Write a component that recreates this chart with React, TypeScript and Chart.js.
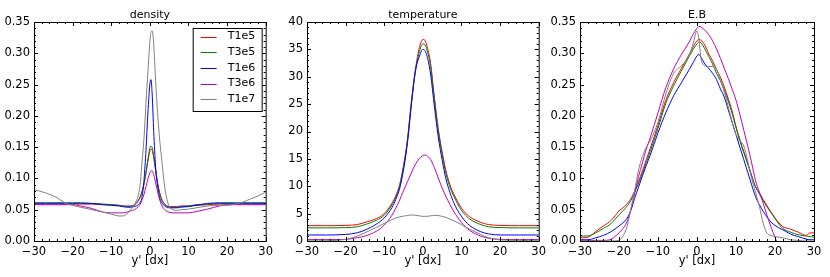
import React, { useEffect, useRef } from 'react';
import { Chart, registerables } from 'chart.js';

Chart.register(...registerables);

const FONT = 'DejaVu Sans';

// ---------- shared ----------
const seriesLabels = ['T1e5', 'T3e5', 'T1e6', 'T3e6', 'T1e7'];
const seriesColors = ['#ff0000', '#008000', '#0000ff', '#bf00bf', '#808080'];
const xAxisLabel = "y' [dx]";
const xTicks = [-30, -20, -10, 0, 10, 20, 30];

// ---------- density ----------
const densX = [-30, -27, -24, -22, -20, -18, -15, -12, -10, -8, -7, -6, -5, -4, -3.5, -3, -2.5, -2, -1.5, -1, -0.5, 0, 0.3, 0.6, 1, 1.5, 2, 2.5, 3, 3.5, 4, 4.5, 5, 6, 7, 8, 10, 12, 15, 18, 20, 22, 24, 26, 28, 30];
const densT1e5 = [0.059, 0.059, 0.059, 0.059, 0.059, 0.059, 0.059, 0.058, 0.058, 0.057, 0.056, 0.056, 0.056, 0.058, 0.061, 0.065, 0.071, 0.080, 0.092, 0.108, 0.128, 0.143, 0.147, 0.145, 0.133, 0.112, 0.092, 0.078, 0.068, 0.062, 0.058, 0.056, 0.055, 0.055, 0.055, 0.056, 0.056, 0.057, 0.058, 0.059, 0.059, 0.059, 0.059, 0.059, 0.059, 0.059];
const densT3e5 = [0.060, 0.060, 0.060, 0.060, 0.060, 0.060, 0.060, 0.059, 0.058, 0.057, 0.056, 0.055, 0.055, 0.057, 0.060, 0.064, 0.070, 0.079, 0.092, 0.110, 0.131, 0.148, 0.152, 0.149, 0.136, 0.114, 0.093, 0.078, 0.067, 0.061, 0.057, 0.055, 0.054, 0.054, 0.054, 0.055, 0.056, 0.058, 0.059, 0.060, 0.060, 0.060, 0.060, 0.060, 0.060, 0.060];
const densT1e6 = [0.061, 0.061, 0.061, 0.061, 0.061, 0.061, 0.060, 0.058, 0.057, 0.056, 0.055, 0.054, 0.054, 0.055, 0.056, 0.058, 0.062, 0.071, 0.098, 0.145, 0.205, 0.250, 0.258, 0.235, 0.175, 0.118, 0.088, 0.070, 0.062, 0.058, 0.055, 0.054, 0.053, 0.053, 0.053, 0.054, 0.055, 0.057, 0.060, 0.061, 0.061, 0.061, 0.061, 0.061, 0.061, 0.061];
const densT3e6 = [0.058, 0.058, 0.058, 0.058, 0.058, 0.056, 0.052, 0.046, 0.045, 0.045, 0.045, 0.046, 0.048, 0.050, 0.052, 0.055, 0.059, 0.066, 0.075, 0.087, 0.099, 0.109, 0.112, 0.112, 0.106, 0.093, 0.079, 0.067, 0.058, 0.052, 0.049, 0.047, 0.046, 0.045, 0.045, 0.045, 0.045, 0.047, 0.051, 0.056, 0.058, 0.058, 0.058, 0.058, 0.058, 0.058];
const densT1e7 = [0.082, 0.077, 0.069, 0.061, 0.057, 0.054, 0.050, 0.046, 0.043, 0.040, 0.040, 0.043, 0.050, 0.058, 0.064, 0.073, 0.090, 0.128, 0.165, 0.220, 0.270, 0.318, 0.334, 0.336, 0.315, 0.255, 0.205, 0.165, 0.135, 0.105, 0.080, 0.065, 0.055, 0.050, 0.049, 0.050, 0.051, 0.053, 0.056, 0.057, 0.057, 0.059, 0.062, 0.067, 0.072, 0.078];
const densYTicks = [0, 0.05, 0.1, 0.15, 0.2, 0.25, 0.3, 0.35];

// ---------- temperature ----------
const tempX = [-30, -25, -20, -17, -15, -12, -10, -8, -7, -6, -5, -4, -3, -2, -1, 0, 0.5, 1, 2, 3, 4, 5, 6, 7, 8, 10, 12, 15, 17, 20, 25, 30];
const tempT1e5 = [2.8, 2.8, 2.85, 3.0, 3.4, 4.1, 5.0, 6.9, 8.3, 10.3, 13.8, 18.5, 25.3, 31.0, 35.0, 36.8, 36.7, 35.8, 32.5, 26.2, 20.5, 16.3, 12.8, 10.3, 8.6, 6.0, 4.5, 3.4, 3.0, 2.85, 2.8, 2.8];
const tempT3e5 = [2.4, 2.4, 2.45, 2.6, 3.0, 3.8, 4.7, 6.6, 8.0, 10.0, 13.5, 18.2, 25.0, 30.5, 34.3, 36.0, 35.9, 35.1, 31.8, 25.7, 20.0, 15.8, 12.3, 9.9, 8.2, 5.6, 4.1, 3.0, 2.6, 2.45, 2.4, 2.4];
const tempT1e6 = [1.1, 1.1, 1.2, 1.5, 2.0, 3.1, 4.2, 6.1, 7.6, 9.6, 13.0, 17.8, 24.6, 30.8, 33.5, 35.0, 34.8, 34.0, 30.5, 24.5, 19.0, 14.8, 11.3, 8.9, 7.0, 4.5, 2.9, 1.7, 1.3, 1.1, 1.1, 1.1];
const tempT3e6 = [0.25, 0.25, 0.3, 0.6, 0.9, 1.8, 2.9, 4.7, 6.0, 7.5, 9.2, 10.8, 12.4, 13.9, 15.0, 15.6, 15.7, 15.6, 14.9, 13.4, 11.5, 9.7, 8.1, 6.7, 5.4, 3.4, 2.0, 0.9, 0.5, 0.3, 0.25, 0.25];
const tempT1e7 = [0.02, 0.05, 0.3, 0.9, 1.5, 2.5, 3.2, 3.9, 4.2, 4.4, 4.55, 4.65, 4.75, 4.72, 4.6, 4.5, 4.5, 4.5, 4.6, 4.68, 4.65, 4.5, 4.3, 4.0, 3.7, 3.0, 2.2, 1.2, 0.6, 0.2, 0.1, 0.05];
const tempYTicks = [0, 5, 10, 15, 20, 25, 30, 35, 40];

// ---------- E.B ----------
const ebX = [-30, -28, -26, -24, -22, -20, -19, -18, -17, -16, -15, -14, -13, -12, -10, -8, -6, -4, -2, -1, 0, 0.5, 1, 2, 3, 4, 5, 6, 7, 8, 9, 10, 11, 12, 13, 14, 15, 16, 17, 18, 19, 20, 21, 22, 24, 26, 28, 29, 30];
const ebT1e5 = [0.005, 0.006, 0.015, 0.024, 0.033, 0.048, 0.053, 0.059, 0.067, 0.080, 0.095, 0.112, 0.130, 0.148, 0.185, 0.225, 0.253, 0.276, 0.298, 0.310, 0.320, 0.322, 0.321, 0.313, 0.299, 0.288, 0.274, 0.262, 0.246, 0.228, 0.208, 0.183, 0.162, 0.143, 0.125, 0.105, 0.087, 0.077, 0.066, 0.056, 0.046, 0.037, 0.029, 0.023, 0.019, 0.014, 0.009, 0.013, 0.013];
const ebT3e5 = [0.008, 0.008, 0.013, 0.020, 0.028, 0.042, 0.048, 0.055, 0.064, 0.077, 0.092, 0.108, 0.125, 0.143, 0.180, 0.220, 0.248, 0.272, 0.295, 0.306, 0.315, 0.318, 0.317, 0.307, 0.295, 0.283, 0.268, 0.256, 0.241, 0.224, 0.204, 0.181, 0.160, 0.141, 0.123, 0.104, 0.087, 0.075, 0.064, 0.054, 0.045, 0.036, 0.027, 0.020, 0.014, 0.010, 0.008, 0.007, 0.006];
const ebT1e6 = [0.002, 0.002, 0.005, 0.009, 0.015, 0.024, 0.029, 0.036, 0.048, 0.068, 0.086, 0.104, 0.121, 0.137, 0.173, 0.205, 0.232, 0.253, 0.274, 0.285, 0.296, 0.298, 0.294, 0.283, 0.276, 0.268, 0.258, 0.243, 0.230, 0.210, 0.190, 0.170, 0.150, 0.130, 0.110, 0.090, 0.071, 0.058, 0.047, 0.038, 0.030, 0.025, 0.021, 0.018, 0.011, 0.007, 0.003, 0.002, 0.002];
const ebT3e6 = [0.001, 0.001, 0.001, 0.001, 0.003, 0.013, 0.020, 0.030, 0.050, 0.075, 0.103, 0.125, 0.147, 0.165, 0.205, 0.245, 0.275, 0.298, 0.318, 0.330, 0.340, 0.343, 0.342, 0.337, 0.330, 0.320, 0.307, 0.292, 0.276, 0.260, 0.243, 0.225, 0.202, 0.177, 0.152, 0.125, 0.097, 0.078, 0.060, 0.040, 0.022, 0.006, -0.010, -0.020, -0.030, -0.030, -0.030, -0.030, -0.030];
const ebT1e7 = [0.0, 0.0, 0.0, 0.0, 0.0, 0.001, 0.008, 0.022, 0.050, 0.080, 0.113, 0.135, 0.150, 0.160, 0.190, 0.235, 0.268, 0.280, 0.297, 0.315, 0.336, 0.322, 0.293, 0.280, 0.279, 0.279, 0.274, 0.258, 0.238, 0.215, 0.190, 0.170, 0.160, 0.152, 0.128, 0.100, 0.078, 0.055, 0.028, 0.012, 0.009, 0.007, 0.006, 0.005, 0.002, 0.001, 0.0, 0.0, 0.0];
const ebYTicks = [0, 0.05, 0.1, 0.15, 0.2, 0.25, 0.3, 0.35];

const fmtX = (v: number) => (v < 0 ? '\u2212' + Math.abs(v) : String(v));

const TICK_FONT_SIZE = 11.5;
const TITLE_FONT_SIZE = 11;
const LEGEND_FONT_SIZE = 11;

// inward ticks on all four sides + black frame
const frameTicks = {
  id: 'frameTicks',
  afterDatasetsDraw(chart: any, _args: any, opts: any) {
    const { ctx, chartArea } = chart;
    const { left, right, top, bottom } = chartArea;
    const xs = chart.scales.x;
    const ys = chart.scales.y;
    ctx.save();
    ctx.strokeStyle = '#000';
    ctx.lineWidth = 1;
    ctx.beginPath();
    const nX = Math.round((xs.max - xs.min) / opts.xMinor);
    for (let i = 0; i <= nX; i++) {
      const v = xs.min + i * opts.xMinor;
      const len = i % 5 === 0 ? 4 : 2;
      const px = Math.round(xs.getPixelForValue(v)) + 0.5;
      ctx.moveTo(px, bottom);
      ctx.lineTo(px, bottom - len);
      ctx.moveTo(px, top);
      ctx.lineTo(px, top + len);
    }
    const nY = Math.round((ys.max - ys.min) / opts.yMinor);
    for (let i = 0; i <= nY; i++) {
      const v = ys.min + i * opts.yMinor;
      const len = i % 5 === 0 ? 4 : 2;
      const py = Math.round(ys.getPixelForValue(v)) + 0.5;
      ctx.moveTo(left, py);
      ctx.lineTo(left + len, py);
      ctx.moveTo(right, py);
      ctx.lineTo(right - len, py);
    }
    ctx.stroke();
    ctx.strokeRect(left + 0.5, top + 0.5, right - left, bottom - top);
    ctx.restore();
  },
};

const panelTitle = {
  id: 'panelTitle',
  afterDraw(chart: any, _args: any, opts: any) {
    const { ctx, chartArea } = chart;
    ctx.save();
    ctx.fillStyle = '#000';
    ctx.font = `${TITLE_FONT_SIZE}px "${FONT}"`;
    ctx.textAlign = 'center';
    ctx.textBaseline = 'middle';
    ctx.fillText(opts.text, (chartArea.left + chartArea.right) / 2, 15);
    ctx.restore();
  },
};

const innerLegend = {
  id: 'innerLegend',
  afterDraw(chart: any, _args: any, opts: any) {
    if (!opts.show) return;
    const { ctx, chartArea } = chart;
    const bx = chartArea.right - 73;
    const by = chartArea.top + 6;
    const bw = 69;
    const bh = 83;
    ctx.save();
    ctx.fillStyle = '#fff';
    ctx.fillRect(bx, by, bw, bh);
    ctx.strokeStyle = '#000';
    ctx.lineWidth = 1;
    ctx.strokeRect(bx + 0.5, by + 0.5, bw, bh);
    ctx.font = `${LEGEND_FONT_SIZE}px "${FONT}"`;
    ctx.textBaseline = 'middle';
    ctx.textAlign = 'left';
    chart.data.datasets.forEach((ds: any, i: number) => {
      const y = by + 8.5 + i * 15.7;
      ctx.strokeStyle = ds.borderColor;
      ctx.beginPath();
      ctx.moveTo(bx + 8, Math.round(y) + 0.5);
      ctx.lineTo(bx + 24, Math.round(y) + 0.5);
      ctx.stroke();
      ctx.fillStyle = '#000';
      ctx.fillText(ds.label, bx + 35, y);
    });
    ctx.restore();
  },
};

type PanelProps = {
  left: number;
  width: number;
  yAxisWidth: number;
  padRight: number;
  title: string;
  xs: number[];
  series: number[][];
  yTicks: number[];
  yMinor: number;
  yDigits: number;
  legend: boolean;
};

function Panel(p: PanelProps) {
  const ref = useRef<HTMLCanvasElement>(null);
  useEffect(() => {
    if (!ref.current) return;
    const font = { family: FONT, size: TICK_FONT_SIZE };
    const chart = new Chart(ref.current, {
      type: 'line',
      data: {
        datasets: p.series.map((vals, i) => ({
          label: seriesLabels[i],
          data: p.xs.map((x, j) => ({ x, y: vals[j] })),
          borderColor: seriesColors[i],
          backgroundColor: seriesColors[i],
          borderWidth: 1,
          pointRadius: 0,
          fill: false,
          cubicInterpolationMode: 'monotone' as const,
          order: p.series.length - i,
        })),
      },
      options: {
        responsive: false,
        animation: false,
        devicePixelRatio: 1,
        events: [],
        layout: { padding: { top: 22, right: p.padRight, left: 0, bottom: 0 } },
        plugins: {
          legend: { display: false },
          tooltip: { enabled: false },
          title: { display: false },
          frameTicks: { xMinor: 2, yMinor: p.yMinor },
          panelTitle: { text: p.title },
          innerLegend: { show: p.legend },
        } as any,
        scales: {
          x: {
            type: 'linear',
            min: xTicks[0],
            max: xTicks[xTicks.length - 1],
            grid: { display: false, drawTicks: false },
            border: { display: false },
            afterBuildTicks: (s: any) => {
              s.ticks = xTicks.map((v) => ({ value: v }));
            },
            ticks: {
              color: '#000',
              font,
              padding: 4,
              maxRotation: 0,
              autoSkip: false,
              callback: (v: any) => fmtX(Number(v)),
            },
            title: {
              display: true,
              text: xAxisLabel,
              color: '#000',
              font,
              padding: { top: 0, bottom: 9 },
            },
            afterFit: (s: any) => {
              s.height = 36;
            },
          },
          y: {
            type: 'linear',
            min: p.yTicks[0],
            max: p.yTicks[p.yTicks.length - 1],
            grid: { display: false, drawTicks: false },
            border: { display: false },
            afterBuildTicks: (s: any) => {
              s.ticks = p.yTicks.map((v) => ({ value: v }));
            },
            ticks: {
              color: '#000',
              font,
              padding: 4,
              autoSkip: false,
              callback: (v: any) => Number(v).toFixed(p.yDigits),
            },
            afterFit: (s: any) => {
              s.width = p.yAxisWidth;
            },
          },
        },
      },
      plugins: [frameTicks, panelTitle, innerLegend],
    });
    return () => chart.destroy();
  }, []);
  return (
    <canvas
      ref={ref}
      width={p.width}
      height={277}
      style={{ position: 'absolute', left: p.left, top: 0, width: p.width, height: 277 }}
    />
  );
}

export default function App() {
  return (
    <div style={{ position: 'absolute', left: 0, top: 0, width: 830, height: 277, background: '#fff', overflow: 'hidden' }}>
      <Panel
        left={0}
        width={277}
        yAxisWidth={34}
        padRight={10}
        title="density"
        xs={densX}
        series={[densT1e5, densT3e5, densT1e6, densT3e6, densT1e7]}
        yTicks={densYTicks}
        yMinor={0.01}
        yDigits={2}
        legend={true}
      />
      <Panel
        left={277}
        width={273}
        yAxisWidth={30}
        padRight={10}
        title="temperature"
        xs={tempX}
        series={[tempT1e5, tempT3e5, tempT1e6, tempT3e6, tempT1e7]}
        yTicks={tempYTicks}
        yMinor={1}
        yDigits={0}
        legend={false}
      />
      <Panel
        left={550}
        width={280}
        yAxisWidth={30}
        padRight={16}
        title="E.B"
        xs={ebX}
        series={[ebT1e5, ebT3e5, ebT1e6, ebT3e6, ebT1e7]}
        yTicks={ebYTicks}
        yMinor={0.01}
        yDigits={2}
        legend={false}
      />
    </div>
  );
}
